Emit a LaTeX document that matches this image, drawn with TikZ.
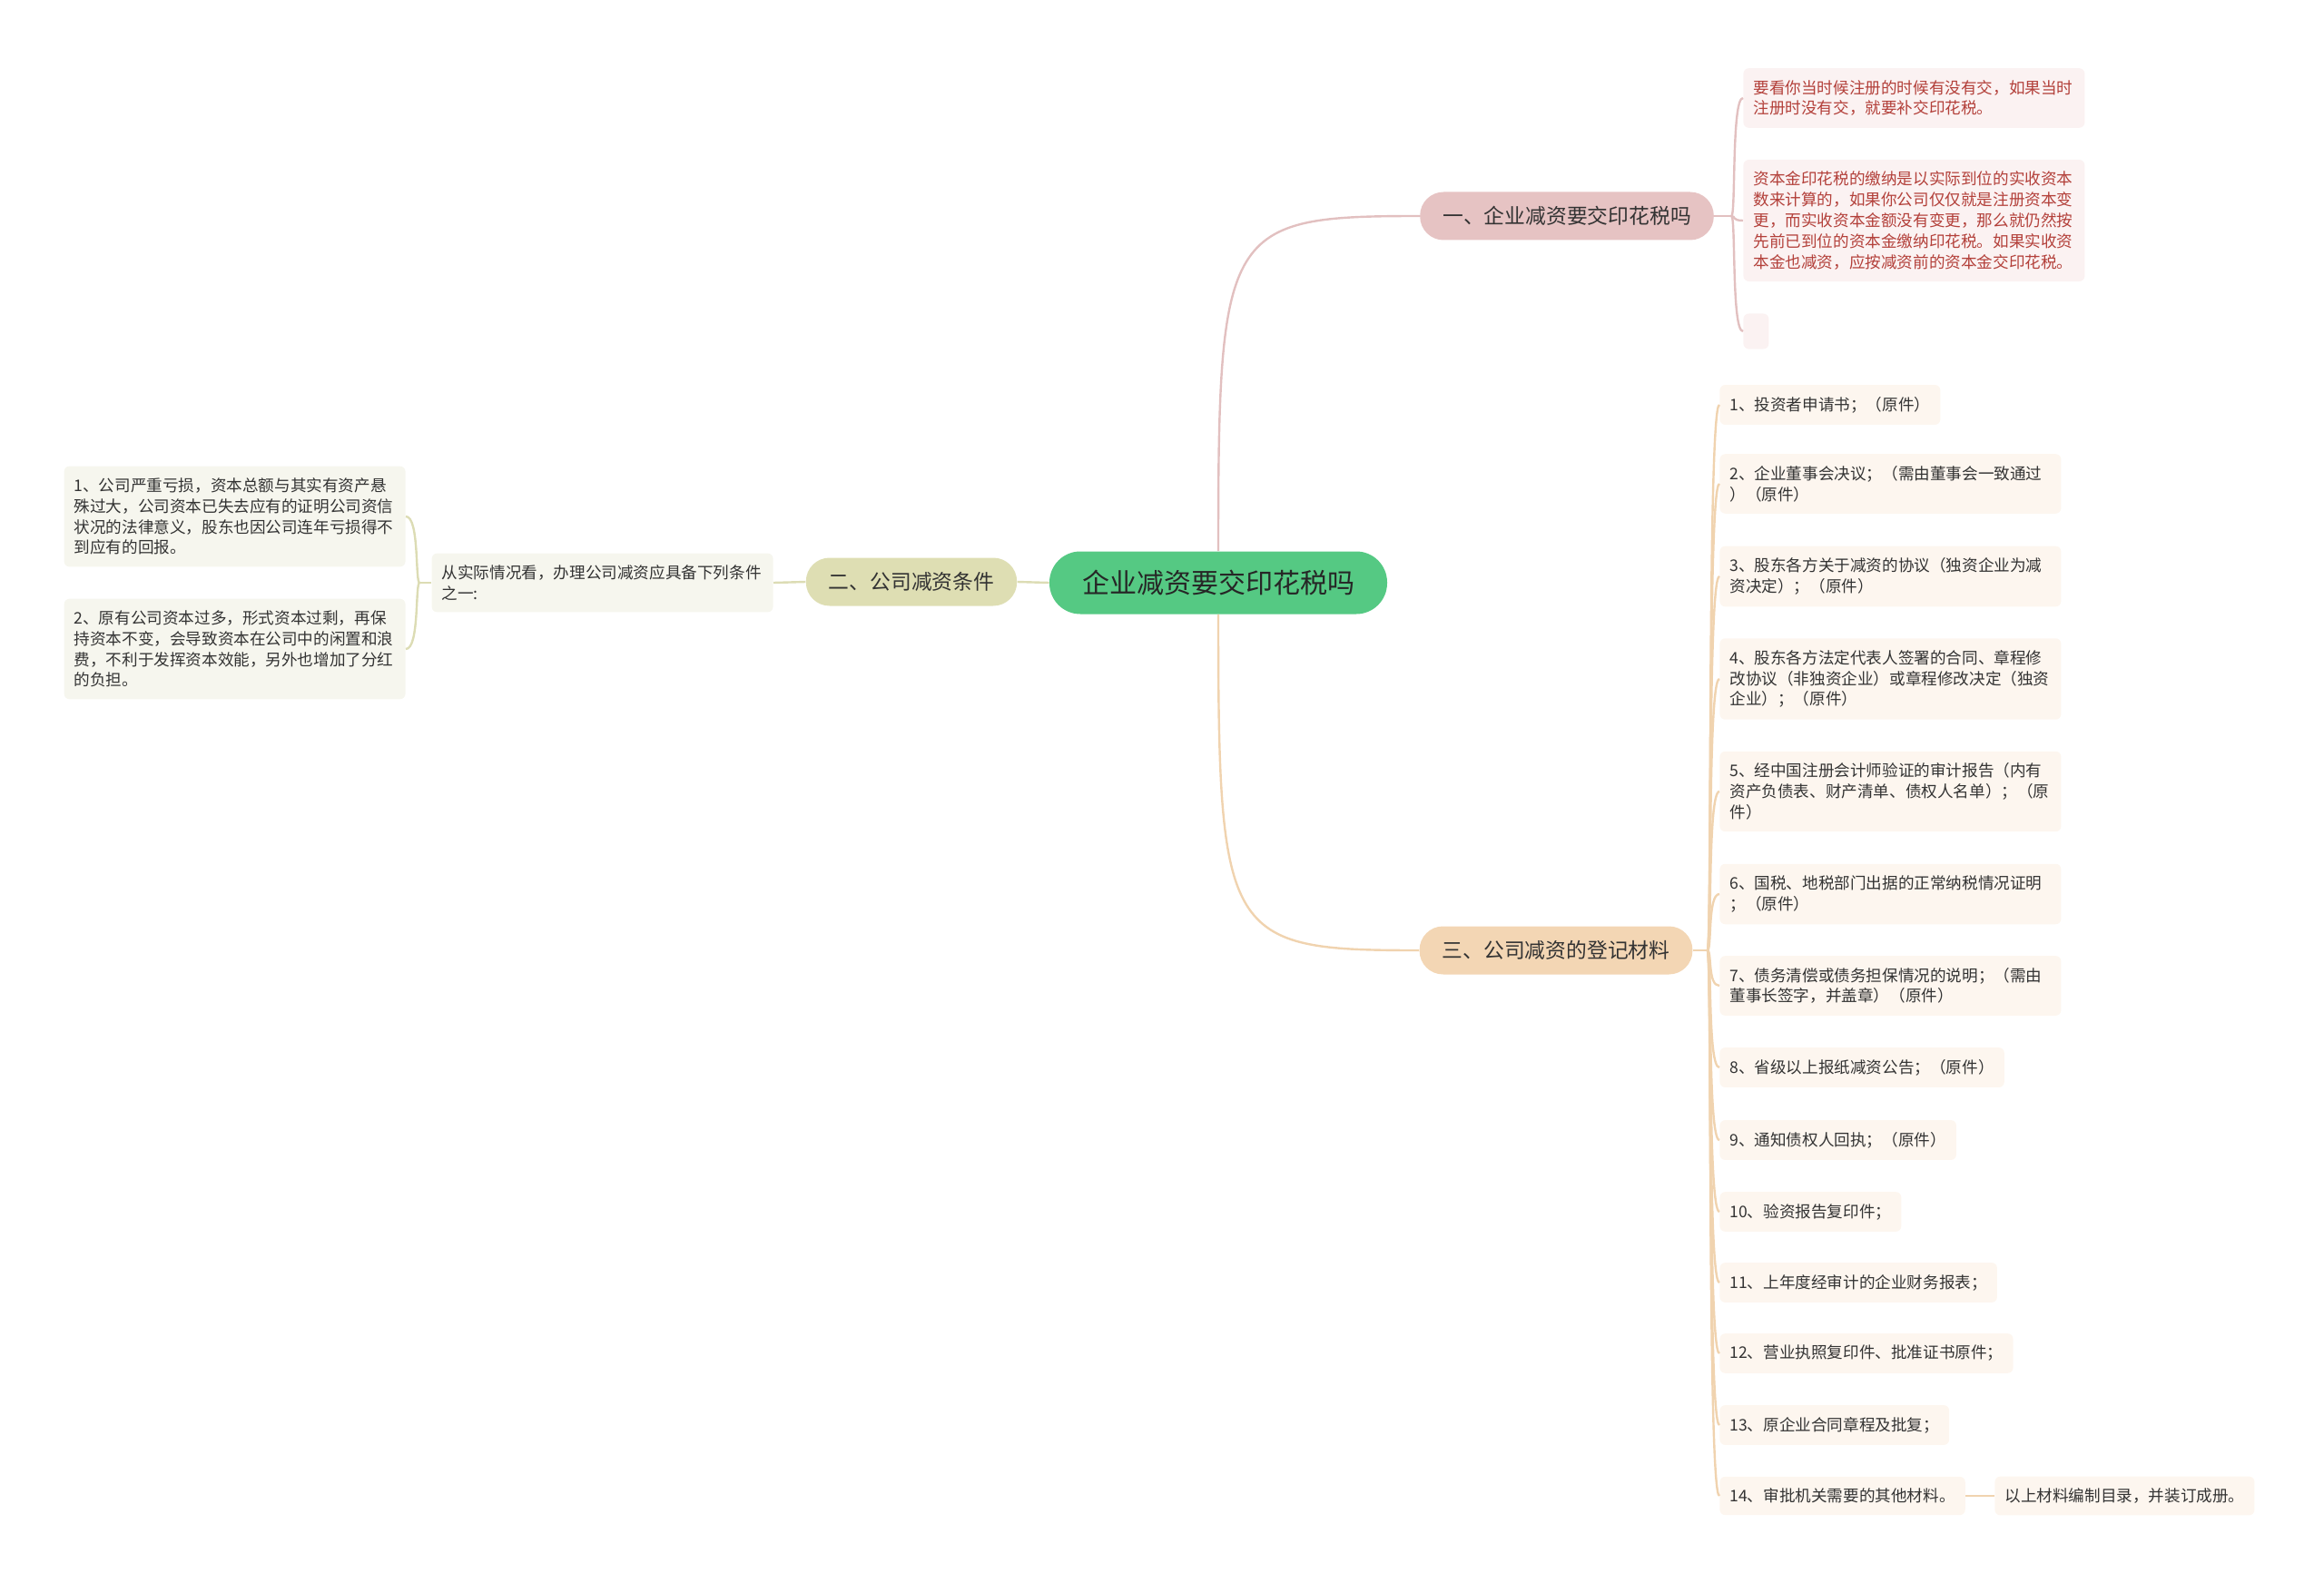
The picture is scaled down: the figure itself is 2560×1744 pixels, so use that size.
\documentclass[tikz,border=0pt]{standalone}
\usepackage{fontspec}
\setmainfont{Noto Sans CJK SC}
\usepackage{tikz}
\usetikzlibrary{calc,positioning}
\definecolor{rootgreen}{HTML}{55C983}
\definecolor{pinkfill}{HTML}{E6C3C3}
\definecolor{pinkline}{HTML}{E2C0C0}
\definecolor{pinkleaf}{HTML}{FBF2F2}
\definecolor{pinktext}{HTML}{B3403A}
\definecolor{olivefill}{HTML}{DEDEB3}
\definecolor{oliveline}{HTML}{DCDCB4}
\definecolor{oliveleaf}{HTML}{F6F6EE}
\definecolor{tanfill}{HTML}{F3D6B4}
\definecolor{tanline}{HTML}{F0D3AF}
\definecolor{tanleaf}{HTML}{FDF6EF}
\definecolor{inkgray}{HTML}{333333}

\begin{document}
\begin{tikzpicture}[x=0.5pt,y=-0.5pt,
    rootbox/.style={rounded corners=17pt, fill=rootgreen, text=black!85, minimum width=186pt, minimum height=34.5pt, font=\fontsize{15}{18}\selectfont},
    branchbox/.style={rounded corners=13pt, text=inkgray, inner xsep=12.5pt, minimum height=26.5pt, font=\fontsize{11.4}{14}\selectfont},
    leafbox/.style={rounded corners=3pt, text=inkgray, align=left, inner xsep=5.5pt, inner ysep=6.5pt, font=\fontsize{8.8}{11.4}\selectfont},
    wrap/.style={text width=177pt},
    link/.style={line width=1.2pt}]
                \useasboundingbox (0,0) rectangle (2560,1744);
                %Centre and branches
                \node[rootbox] (root) at (1342,642) {企业减资要交印花税吗};
                \node[branchbox, fill=pinkfill] (b1) at (1726,238) {一、企业减资要交印花税吗};
                \node[branchbox, fill=olivefill] (b2) at (1004,641) {二、公司减资条件};
                \node[branchbox, fill=tanfill] (b3) at (1714,1047) {三、公司减资的登记材料};
                %Leaves of b1
                \node[leafbox, wrap, fill=pinkleaf, text=pinktext, anchor=west] (p1) at (1920,108) {要看你当时候注册的时候有没有交，如果当时\\注册时没有交，就要补交印花税。};
                \node[leafbox, wrap, fill=pinkleaf, text=pinktext, anchor=west] (p2) at (1920,243) {资本金印花税的缴纳是以实际到位的实收资本\\数来计算的，如果你公司仅仅就是注册资本变\\更，而实收资本金额没有变更，那么就仍然按\\先前已到位的资本金缴纳印花税。如果实收资\\本金也减资，应按减资前的资本金交印花税。};
                \node[leafbox, fill=pinkleaf, minimum width=14pt, minimum height=19.5pt, anchor=west, inner sep=0pt] (p3) at (1920,365) {};
                %Leaves of b2
                \node[leafbox, wrap, fill=oliveleaf, anchor=east] (txt) at (852,642) {从实际情况看，办理公司减资应具备下列条件\\之一:};
                \node[leafbox, wrap, fill=oliveleaf, anchor=east] (l1) at (447,569) {1、公司严重亏损，资本总额与其实有资产悬\\殊过大，公司资本已失去应有的证明公司资信\\状况的法律意义，股东也因公司连年亏损得不\\到应有的回报。};
                \node[leafbox, wrap, fill=oliveleaf, anchor=east] (l2) at (447,715) {2、原有公司资本过多，形式资本过剩，再保\\持资本不变，会导致资本在公司中的闲置和浪\\费，不利于发挥资本效能，另外也增加了分红\\的负担。};
                %Leaves of b3
                \node[leafbox, fill=tanleaf, anchor=west] (m1) at (1894,446) {1、投资者申请书；（原件）};
                \node[leafbox, wrap, fill=tanleaf, anchor=west] (m2) at (1894,533) {2、企业董事会决议；（需由董事会一致通过\\）（原件）};
                \node[leafbox, wrap, fill=tanleaf, anchor=west] (m3) at (1894,635) {3、股东各方关于减资的协议（独资企业为减\\资决定）；（原件）};
                \node[leafbox, wrap, fill=tanleaf, anchor=west] (m4) at (1894,748) {4、股东各方法定代表人签署的合同、章程修\\改协议（非独资企业）或章程修改决定（独资\\企业）；（原件）};
                \node[leafbox, wrap, fill=tanleaf, anchor=west] (m5) at (1894,872) {5、经中国注册会计师验证的审计报告（内有\\资产负债表、财产清单、债权人名单）；（原\\件）};
                \node[leafbox, wrap, fill=tanleaf, anchor=west] (m6) at (1894,985) {6、国税、地税部门出据的正常纳税情况证明\\；（原件）};
                \node[leafbox, wrap, fill=tanleaf, anchor=west] (m7) at (1894,1086) {7、债务清偿或债务担保情况的说明；（需由\\董事长签字，并盖章）（原件）};
                \node[leafbox, fill=tanleaf, anchor=west] (m8) at (1894,1176) {8、省级以上报纸减资公告；（原件）};
                \node[leafbox, fill=tanleaf, anchor=west] (m9) at (1894,1256) {9、通知债权人回执；（原件）};
                \node[leafbox, fill=tanleaf, anchor=west] (m10) at (1894,1335) {10、验资报告复印件；};
                \node[leafbox, fill=tanleaf, anchor=west] (m11) at (1894,1413) {11、上年度经审计的企业财务报表；};
                \node[leafbox, fill=tanleaf, anchor=west] (m12) at (1894,1491) {12、营业执照复印件、批准证书原件；};
                \node[leafbox, fill=tanleaf, anchor=west] (m13) at (1894,1570) {13、原企业合同章程及批复；};
                \node[leafbox, fill=tanleaf, anchor=west] (m14) at (1894,1648) {14、审批机关需要的其他材料。};
                \node[leafbox, fill=tanleaf, anchor=west] (m14x) at (2197,1648) {以上材料编制目录，并装订成册。};
                %Main edges
                \draw[link, pinkline] (root.north) .. controls (1342,250) and (1350,238) .. (b1.west);
                \draw[link, oliveline] (root.west) -- (b2.east);
                \draw[link, tanline] (root.south) .. controls (1342,1035) and (1350,1047) .. (b3.west);
                %Junctions
                \coordinate (j1) at ($(b1.east)+(19,0)$);
                \coordinate (j2) at ($(txt.west)+(-13,0)$);
                \coordinate (j3) at ($(b3.east)+(16,0)$);
                %Leaf edges
                \draw[link, pinkline] (b1.east) -- (j1);
                \foreach \n in {p1,p2,p3}
                    \draw[link, pinkline] (j1) .. controls ($(j1)+(5,0)$) and (j1 |- \n.west) .. (\n.west);
                \draw[link, oliveline] (b2.west) -- (txt.east);
                \draw[link, oliveline] (txt.west) -- (j2);
                \foreach \n in {l1,l2}
                    \draw[link, oliveline] (j2) .. controls ($(j2)+(-5,0)$) and (j2 |- \n.east) .. (\n.east);
                \draw[link, tanline] (b3.east) -- (j3);
                \foreach \i in {1,...,14}
                    \draw[link, tanline] (j3) .. controls ($(j3)+(5,0)$) and (j3 |- m\i.west) .. (m\i.west);
                \draw[link, tanline] (m14.east) -- (m14x.west);
\end{tikzpicture}
\end{document}
